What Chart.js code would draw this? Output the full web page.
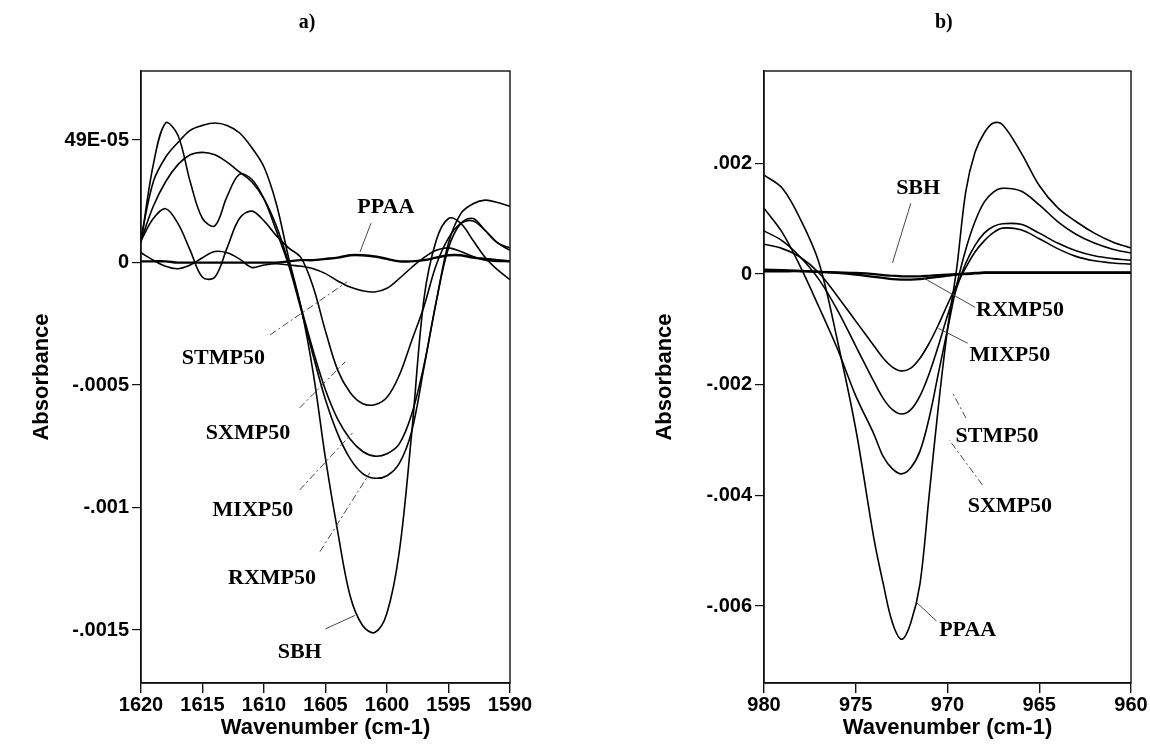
<!DOCTYPE html>
<html><head><meta charset="utf-8">
<script src="https://cdn.jsdelivr.net/npm/chart.js@4.4.0/dist/chart.umd.min.js"></script>
<style>
html,body{margin:0;padding:0;background:#fff;}
#wrap{position:relative;width:1150px;height:746px;overflow:hidden;}
canvas{position:absolute;top:0;}
#ca{left:0;} #cb{left:575px;}
</style></head><body>
<div id="wrap"><canvas id="ca" width="575" height="746" style="width:575px;height:746px"></canvas><canvas id="cb" width="575" height="746" style="width:575px;height:746px"></canvas></div>
<script>
// ---------- Panel a data ----------
const wnA = [1620,1619,1618,1617,1616,1615,1614,1613,1612,1611,1610,1609,1608,1607,1606,1605,1604,1603,1602,1601,1600,1599,1598,1597,1596,1595,1594,1593,1592,1591,1590];
const sbhA   = [1.0e-4,3.3e-4,4.3e-4,4.9e-4,5.4e-4,5.6e-4,5.7e-4,5.6e-4,5.3e-4,4.7e-4,3.9e-4,2.4e-4,0.2e-4,-1.8e-4,-4.5e-4,-8.0e-4,-11.0e-4,-13.6e-4,-14.8e-4,-15.1e-4,-14.3e-4,-11.8e-4,-7.0e-4,-1.5e-4,0.9e-4,1.8e-4,1.6e-4,0.9e-4,0.2e-4,-0.3e-4,-0.7e-4];
const rxmpA  = [0.8e-4,4.0e-4,5.7e-4,5.2e-4,3.3e-4,1.8e-4,1.5e-4,2.7e-4,3.6e-4,3.4e-4,2.6e-4,1.3e-4,-0.1e-4,-1.9e-4,-3.8e-4,-5.6e-4,-7.0e-4,-8.0e-4,-8.6e-4,-8.8e-4,-8.7e-4,-8.2e-4,-6.9e-4,-4.3e-4,-1.6e-4,0.6e-4,1.6e-4,1.8e-4,1.3e-4,0.8e-4,0.6e-4];
const mixpA  = [0.9e-4,2.3e-4,3.3e-4,4.0e-4,4.4e-4,4.5e-4,4.4e-4,4.1e-4,3.7e-4,3.3e-4,2.6e-4,1.5e-4,0.0,-1.8e-4,-3.6e-4,-5.2e-4,-6.4e-4,-7.2e-4,-7.7e-4,-7.9e-4,-7.8e-4,-7.4e-4,-6.2e-4,-4.2e-4,-1.6e-4,0.8e-4,2.0e-4,2.4e-4,2.55e-4,2.45e-4,2.3e-4];
const sxmpA  = [0.9e-4,1.8e-4,2.2e-4,1.6e-4,0.5e-4,-0.6e-4,-0.6e-4,0.6e-4,1.8e-4,2.1e-4,1.7e-4,1.1e-4,0.6e-4,0.2e-4,-1.0e-4,-2.8e-4,-4.4e-4,-5.3e-4,-5.75e-4,-5.8e-4,-5.5e-4,-4.6e-4,-3.2e-4,-1.8e-4,-0.1e-4,1.0e-4,1.6e-4,1.7e-4,1.3e-4,0.8e-4,0.5e-4];
const stmpA  = [0.4e-4,0.1e-4,-0.15e-4,-0.25e-4,-0.1e-4,0.2e-4,0.45e-4,0.4e-4,0.15e-4,-0.2e-4,-0.1e-4,-0.05e-4,-0.1e-4,-0.15e-4,-0.25e-4,-0.45e-4,-0.75e-4,-1.0e-4,-1.15e-4,-1.2e-4,-1.05e-4,-0.65e-4,-0.2e-4,0.2e-4,0.5e-4,0.6e-4,0.45e-4,0.25e-4,0.1e-4,0.05e-4,0.05e-4];
const ppaaA  = [0.05e-4,0.05e-4,0.05e-4,0.0,0.0,0.0,0.0,0.0,0.0,0.0,0.0,0.0,0.05e-4,0.1e-4,0.1e-4,0.15e-4,0.2e-4,0.3e-4,0.3e-4,0.25e-4,0.15e-4,0.05e-4,0.05e-4,0.1e-4,0.2e-4,0.3e-4,0.3e-4,0.2e-4,0.15e-4,0.1e-4,0.05e-4];
const xTicksA = [1620,1615,1610,1605,1600,1595,1590];
const yTicksA = [0.0005,0,-0.0005,-0.001,-0.0015];
const yTickLabelsA = ['49E-05','0','-.0005','-.001','-.0015'];

// ---------- Panel b data ----------
const wnB = [980,979,978,977,976,975,974,973.5,973,972.5,972,971.5,971,970.5,970,969.5,969,968.5,968,967.5,967,966,965,964,963,962,961,960];
const ppaaB = [1.79e-3,1.55e-3,0.98e-3,0.2e-3,-1.2e-3,-2.8e-3,-4.8e-3,-5.6e-3,-6.3e-3,-6.6e-3,-6.3e-3,-5.6e-3,-4.0e-3,-2.4e-3,-1.0e-3,0.1e-3,1.5e-3,2.2e-3,2.55e-3,2.73e-3,2.7e-3,2.2e-3,1.6e-3,1.2e-3,0.95e-3,0.74e-3,0.58e-3,0.47e-3];
const sxmpB = [1.19e-3,0.75e-3,0.12e-3,-0.6e-3,-1.35e-3,-2.2e-3,-2.9e-3,-3.3e-3,-3.52e-3,-3.61e-3,-3.5e-3,-3.2e-3,-2.6e-3,-1.8e-3,-1.0e-3,-0.2e-3,0.45e-3,0.95e-3,1.3e-3,1.48e-3,1.55e-3,1.5e-3,1.25e-3,0.95e-3,0.72e-3,0.56e-3,0.45e-3,0.38e-3];
const stmpB = [0.78e-3,0.6e-3,0.3e-3,-0.1e-3,-0.65e-3,-1.3e-3,-1.95e-3,-2.25e-3,-2.45e-3,-2.53e-3,-2.45e-3,-2.2e-3,-1.8e-3,-1.3e-3,-0.75e-3,-0.25e-3,0.2e-3,0.52e-3,0.74e-3,0.86e-3,0.91e-3,0.9e-3,0.74e-3,0.56e-3,0.42e-3,0.33e-3,0.28e-3,0.25e-3];
const mixpB = [0.54e-3,0.46e-3,0.3e-3,0.02e-3,-0.4e-3,-0.85e-3,-1.3e-3,-1.52e-3,-1.68e-3,-1.75e-3,-1.7e-3,-1.52e-3,-1.25e-3,-0.92e-3,-0.55e-3,-0.2e-3,0.12e-3,0.4e-3,0.6e-3,0.75e-3,0.83e-3,0.8e-3,0.64e-3,0.46e-3,0.32e-3,0.24e-3,0.2e-3,0.18e-3];
const sbhB  = [0.08e-3,0.07e-3,0.06e-3,0.04e-3,0.02e-3,-0.01e-3,-0.05e-3,-0.07e-3,-0.09e-3,-0.1e-3,-0.1e-3,-0.09e-3,-0.07e-3,-0.05e-3,-0.03e-3,-0.01e-3,0.0,0.01e-3,0.02e-3,0.02e-3,0.02e-3,0.02e-3,0.02e-3,0.02e-3,0.02e-3,0.02e-3,0.02e-3,0.02e-3];
const rxmpB = [0.05e-3,0.05e-3,0.05e-3,0.04e-3,0.03e-3,0.02e-3,0.0,-0.02e-3,-0.03e-3,-0.04e-3,-0.04e-3,-0.04e-3,-0.03e-3,-0.02e-3,-0.01e-3,0.0,0.01e-3,0.02e-3,0.03e-3,0.03e-3,0.03e-3,0.03e-3,0.03e-3,0.03e-3,0.03e-3,0.03e-3,0.03e-3,0.03e-3];
const xTicksB = [980,975,970,965,960];
const yTicksB = [0.002,0,-0.002,-0.004,-0.006];
const yTickLabelsB = ['.002','0','-.002','-.004','-.006'];

// ---------- annotations (data coordinates) ----------
const notesA = [
  {t:'PPAA',   x:1600.1, y:2.27e-4,  line:[1601.3,1.61e-4,1602.2,0.43e-4], dash:false},
  {t:'STMP50', x:1613.3, y:-3.89e-4, line:[1609.5,-2.95e-4,1603.25,-0.79e-4], dash:true},
  {t:'SXMP50', x:1611.3, y:-6.95e-4, line:[1607.1,-5.93e-4,1603.4,-4.05e-4], dash:true},
  {t:'MIXP50', x:1610.9, y:-10.1e-4, line:[1607.1,-9.28e-4,1602.8,-6.95e-4], dash:true},
  {t:'RXMP50', x:1609.35,y:-12.87e-4,line:[1605.45,-11.8e-4,1601.4,-8.58e-4], dash:true},
  {t:'SBH',    x:1607.1, y:-15.9e-4, line:[1605.0,-14.95e-4,1602.6,-14.4e-4], dash:false}
];
const notesB = [
  {t:'SBH',    x:971.6, y:1.55e-3,  line:[972.0,1.28e-3,973.0,0.2e-3], dash:false},
  {t:'RXMP50', x:966.05,y:-0.65e-3, line:[968.5,-0.6e-3,971.3,-0.07e-3], dash:false},
  {t:'MIXP50', x:966.6, y:-1.46e-3, line:[968.9,-1.25e-3,970.5,-0.98e-3], dash:false},
  {t:'STMP50', x:967.3, y:-2.93e-3, line:[969.0,-2.6e-3,969.75,-2.13e-3], dash:true},
  {t:'SXMP50', x:966.6, y:-4.2e-3,  line:[968.1,-3.81e-3,969.9,-3.0e-3], dash:true},
  {t:'PPAA',   x:968.9, y:-6.43e-3, line:[970.6,-6.27e-3,971.7,-5.93e-3], dash:false}
];

const SANS = '"Liberation Sans", Arial, sans-serif';
const SERIF = '"Liberation Serif", "Times New Roman", serif';

function toPts(xs, ys){ return xs.map((x,i)=>({x:x, y:ys[i]})); }

const framePlugin = {
  id:'frame',
  afterDraw(chart, args, opts){
    const {ctx, chartArea:a, scales} = chart;
    ctx.save();
    ctx.strokeStyle = '#111'; ctx.lineWidth = 1.4;
    ctx.strokeRect(a.left, a.top, a.right-a.left, a.bottom-a.top);
    ctx.fillStyle = '#000';
    ctx.font = 'bold 22px ' + SERIF;
    ctx.textAlign = 'center'; ctx.textBaseline = 'middle';
    (opts.notes||[]).forEach(n=>{
      const px = scales.x.getPixelForValue(n.x), py = scales.y.getPixelForValue(n.y);
      ctx.fillText(n.t, px, py);
      ctx.beginPath();
      ctx.lineWidth = 0.9; ctx.strokeStyle = '#333';
      ctx.setLineDash(n.dash ? [7,3,2,3] : []);
      ctx.moveTo(scales.x.getPixelForValue(n.line[0]), scales.y.getPixelForValue(n.line[1]));
      ctx.lineTo(scales.x.getPixelForValue(n.line[2]), scales.y.getPixelForValue(n.line[3]));
      ctx.stroke();
      ctx.setLineDash([]);
    });
    ctx.font = 'bold 20px ' + SERIF;
    ctx.fillText(opts.title, a.left + (a.right-a.left)*opts.titlePos, 23);
    ctx.restore();
  }
};

function makeChart(id, cfg){
  const datasets = cfg.series.map(s=>({
    data: toPts(cfg.wn, s.v), borderColor:'#000', borderWidth:s.w||1.6,
    pointRadius:0, fill:false, tension:0.35
  }));
  return new Chart(document.getElementById(id), {
    type:'line',
    data:{datasets},
    plugins:[framePlugin],
    options:{
      responsive:false, animation:false,
      layout:{padding:{left:cfg.padLeft, right:cfg.padRight, top:71, bottom:0}},
      plugins:{legend:{display:false}, tooltip:{enabled:false},
        frame:{notes:cfg.notes, title:cfg.title, titlePos:cfg.titlePos}},
      scales:{
        x:{type:'linear', reverse:true, min:cfg.xmin, max:cfg.xmax,
          afterBuildTicks:(s)=>{ s.ticks = cfg.xTicks.map(v=>({value:v})); },
          afterFit:(s)=>{ s.height = 63; },
          grid:{drawOnChartArea:false, drawTicks:true, tickLength:10, color:'#111', lineWidth:1.4},
          border:{display:true, color:'#111', width:1.4},
          ticks:{color:'#000', padding:0, maxRotation:0, font:{family:SANS, size:20, weight:'bold'},
            callback:(v)=>String(v)},
          title:{display:true, text:'Wavenumber (cm-1)', color:'#000', padding:{top:0,bottom:5},
            font:{family:SANS, size:22, weight:'bold'}}
        },
        y:{type:'linear', min:cfg.ymin, max:cfg.ymax,
          afterBuildTicks:(s)=>{ s.ticks = cfg.yTicks.map(v=>({value:v})); },
          afterFit:(s)=>{ s.width = 116; },
          grid:{drawOnChartArea:false, drawTicks:true, tickLength:9, color:'#111', lineWidth:1.2},
          border:{display:true, color:'#111', width:1.4},
          ticks:{color:'#000', padding:3, font:{family:SANS, size:20, weight:'bold'},
            callback:(v, i)=>cfg.yLabels[i]},
          title:{display:true, text:'Absorbance', color:'#000', padding:{top:4,bottom:4},
            font:{family:SANS, size:22, weight:'bold'}}
        }
      }
    }
  });
}

makeChart('ca', {
  wn: wnA,
  series:[{v:sbhA},{v:rxmpA},{v:mixpA},{v:sxmpA},{v:stmpA},{v:ppaaA, w:2.4}],
  xmin:1590, xmax:1620, ymin:-0.001716, ymax:0.000782,
  xTicks:xTicksA, yTicks:yTicksA, yLabels:yTickLabelsA,
  padLeft:25, padRight:65, notes:notesA, title:'a)', titlePos:0.45
});
makeChart('cb', {
  wn: wnB,
  series:[{v:ppaaB},{v:sxmpB},{v:stmpB},{v:mixpB},{v:sbhB, w:2.2},{v:rxmpB, w:2.2}],
  xmin:960, xmax:980, ymin:-0.00739, ymax:0.00367,
  xTicks:xTicksB, yTicks:yTicksB, yLabels:yTickLabelsB,
  padLeft:73, padRight:19, notes:notesB, title:'b)', titlePos:0.49
});
</script>
</body></html>
